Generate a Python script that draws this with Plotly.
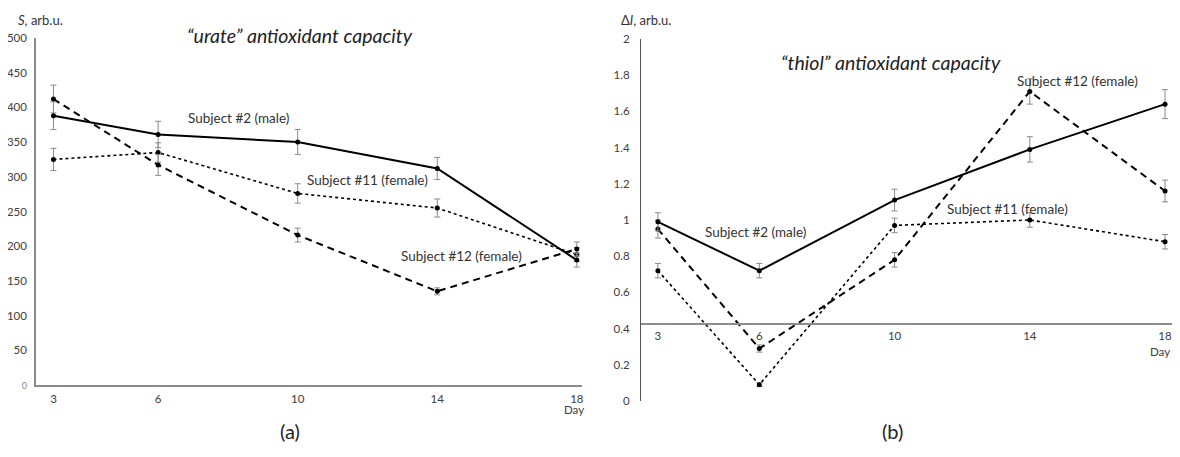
import plotly.graph_objects as go

days = [3, 6, 10, 14, 18]
tick_days = [3, 6, 10, 14, 18]

# (a) "urate" antioxidant capacity, S (arb.u.)
urate_s2 = [388, 361, 350, 312, 180]
urate_s2_err = [20, 19, 18, 16, 10]
urate_s11 = [325, 335, 276, 255, 188]
urate_s11_err = [16, 14, 14, 13, 10]
urate_s12 = [412, 317, 216, 135, 196]
urate_s12_err = [20, 15, 10, 5, 10]
urate_yticks = [0, 50, 100, 150, 200, 250, 300, 350, 400, 450, 500]

# (b) "thiol" antioxidant capacity, dI (arb.u.)
thiol_s2 = [0.99, 0.72, 1.11, 1.39, 1.64]
thiol_s2_err = [0.05, 0.04, 0.06, 0.07, 0.08]
thiol_s11 = [0.72, 0.09, 0.97, 1.00, 0.88]
thiol_s11_err = [0.04, 0.01, 0.04, 0.04, 0.04]
thiol_s12 = [0.95, 0.29, 0.78, 1.71, 1.16]
thiol_s12_err = [0.05, 0.02, 0.04, 0.07, 0.06]
thiol_yticks = [0, 0.2, 0.4, 0.6, 0.8, 1, 1.2, 1.4, 1.6, 1.8, 2]
thiol_yticktext = ["0", "0.2", "0.4", "0.6", "0.8", "1", "1.2", "1.4", "1.6", "1.8", "2"]

FONT = "Lato"
TICKCOL = "#404040"

def err(arr):
    return dict(type="data", array=arr, color="#8a8a8a", thickness=1, width=3)

def add_series(fig, y, e, dash, width, xa, ya):
    fig.add_trace(go.Scatter(
        x=days, y=y, mode="lines+markers", xaxis=xa, yaxis=ya,
        line=dict(color="black", width=width, dash=dash),
        marker=dict(color="black", size=5),
        error_y=err(e), showlegend=False, cliponaxis=False))

fig = go.Figure()
add_series(fig, urate_s11, urate_s11_err, "dot", 1.6, "x", "y")
add_series(fig, urate_s12, urate_s12_err, "7px,5px", 2.0, "x", "y")
add_series(fig, urate_s2, urate_s2_err, "solid", 2.0, "x", "y")
add_series(fig, thiol_s11, thiol_s11_err, "dot", 1.6, "x2", "y2")
add_series(fig, thiol_s12, thiol_s12_err, "7px,5px", 2.0, "x2", "y2")
add_series(fig, thiol_s2, thiol_s2_err, "solid", 2.0, "x2", "y2")

tickfont = dict(family=FONT, size=11.5, color=TICKCOL)
urate_ticktext = ['<span style="font-size:9px;color:#888">0</span>'] + [str(v) for v in urate_yticks[1:]]

# page body has an 8px default margin; the figure is sized to fit the window
fig.update_layout(
    width=1172, height=437,
    margin=dict(l=0, r=0, t=0, b=0, autoexpand=False),
    paper_bgcolor="white", plot_bgcolor="white",
    font=dict(family=FONT, color="#333"),
    xaxis=dict(domain=[0.0239, 0.4898], range=[2.5, 18.15], tickvals=tick_days,
               showgrid=False, zeroline=False, showline=True, linecolor="#8c8c8c",
               linewidth=1.5, ticks="", tickfont=tickfont, anchor="y",
               automargin=False, ticklabelstandoff=2, ticklabeloverflow="allow"),
    yaxis=dict(domain=[0.1373, 0.9314], range=[0, 500], tickvals=urate_yticks,
               ticktext=urate_ticktext, showgrid=False, zeroline=False,
               showline=True, linecolor="#8c8c8c", linewidth=1.5, ticks="",
               tickfont=tickfont, anchor="x", ticklabelstandoff=5, automargin=False,
               ticklabeloverflow="allow"),
    xaxis2=dict(domain=[0.5401, 0.993], range=[2.5, 18.2], tickvals=tick_days,
                showgrid=False, zeroline=False, showline=True, linecolor="#8c8c8c",
                linewidth=1.5, ticks="", tickfont=tickfont, anchor="free",
                position=0.2769, automargin=False, ticklabelstandoff=1,
                ticklabeloverflow="allow"),
    yaxis2=dict(domain=[0.1007, 0.9291], range=[0, 2], tickvals=thiol_yticks,
                ticktext=thiol_yticktext, showgrid=False, zeroline=False,
                showline=True, linecolor="#555555", linewidth=1.2, ticks="",
                tickfont=tickfont, anchor="x2", ticklabelstandoff=8, automargin=False,
                ticklabeloverflow="allow"),
)

lab = dict(family=FONT, size=13.5, color="#333")
ann = [
    # panel (a)
    dict(text="Subject #2 (male)", x=8.29, y=385, xref="x", yref="y", font=lab),
    dict(text="Subject #11 (female)", x=12.0, y=295, xref="x", yref="y", font=lab),
    dict(text="Subject #12 (female)", x=14.7, y=186, xref="x", yref="y", font=lab),
    dict(text="<i>\u201curate\u201d antioxidant capacity</i>", x=0.2491, y=0.9382,
         xref="paper", yref="paper", font=dict(family=FONT, size=19.5, color="#222")),
    dict(text="<i>S</i>, arb.u.", x=0.0068, y=0.9725, xanchor="left",
         xref="paper", yref="paper", font=dict(family=FONT, size=13, color="#333")),
    dict(text="(a)", x=0.2406, y=0.0, yanchor="bottom", xref="paper", yref="paper",
         font=dict(family=FONT, size=20, color="#222")),
    dict(text="Day", x=0.4829, y=0.0801, xref="paper", yref="paper",
         font=dict(family=FONT, size=11.5, color=TICKCOL)),
    # panel (b)
    dict(text="Subject #2 (male)", x=5.9, y=0.934, xref="x2", yref="y2", font=lab),
    dict(text="Subject #12 (female)", x=15.42, y=1.768, xref="x2", yref="y2", font=lab),
    dict(text="Subject #11 (female)", x=13.33, y=1.06, xref="x2", yref="y2", font=lab),
    dict(text="<i>\u201cthiol\u201d antioxidant capacity</i>", x=0.7534, y=0.8764,
         xref="paper", yref="paper", font=dict(family=FONT, size=19.5, color="#222")),
    dict(text="\u0394<i>I</i>, arb.u.", x=0.5213, y=0.9725, xanchor="left",
         xref="paper", yref="paper", font=dict(family=FONT, size=13, color="#333")),
    dict(text="(b)", x=0.7543, y=0.0, yanchor="bottom", xref="paper", yref="paper",
         font=dict(family=FONT, size=20, color="#222")),
    dict(text="Day", x=0.983, y=0.2151, xref="paper", yref="paper",
         font=dict(family=FONT, size=11.5, color=TICKCOL)),
]
for a in ann:
    a["showarrow"] = False
    a.setdefault("xanchor", "center")
    a.setdefault("yanchor", "middle")
fig.update_layout(annotations=ann)

fig.write_html("out.html")
